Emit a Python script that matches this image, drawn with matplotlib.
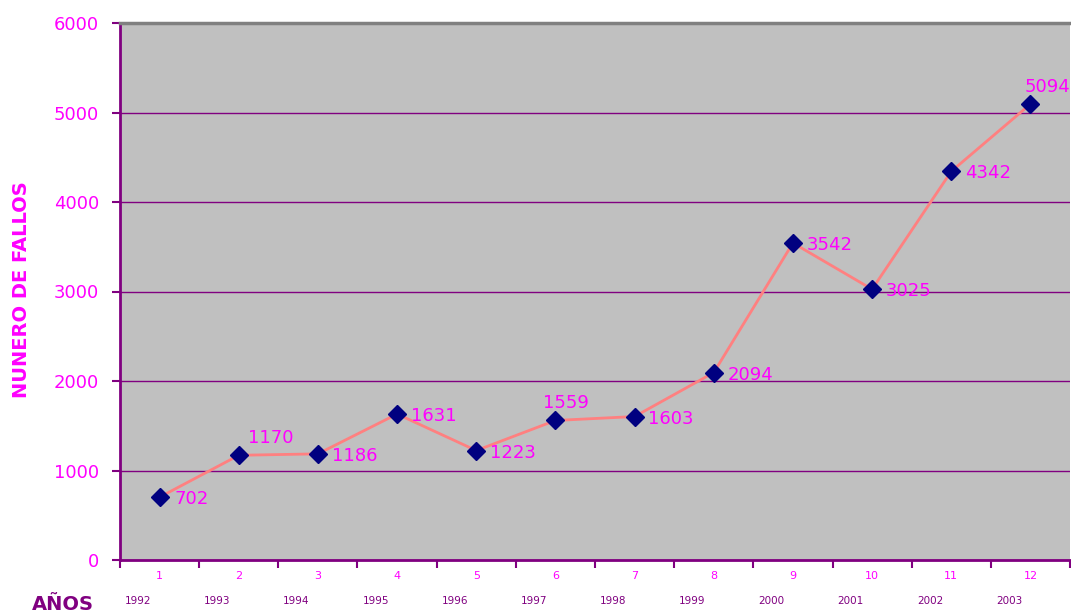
import numpy as np
import matplotlib.pyplot as plt

categorias = list(range(1, 13))
anios = ['1992', '1993', '1994', '1995', '1996', '1997', '1998', '1999', '2000', '2001', '2002', '2003']
fallos = [702, 1170, 1186, 1631, 1223, 1559, 1603, 2094, 3542, 3025, 4342, 5094]
# label offsets in points (dx, dy)
offsets = [(11, 0), (7, 14), (10, 0), (10, 0), (10, 0), (-9, 14), (10, 0), (10, 0),
           (10, 0), (10, 0), (10, 0), (-4, 14)]

MAG = '#FF00FF'
PURP = '#800080'

fig = plt.figure(figsize=(10.71, 6.13), dpi=100)
ax = fig.add_axes([120 / 1071, 53 / 613, 950 / 1071, 537 / 613])
ax.set_facecolor('#C0C0C0')

x = np.arange(len(fallos))
ax.plot(x, fallos, color='#FF8080', lw=2, zorder=2)
ax.plot(x, fallos, ls='none', marker='D', ms=9, color='#000080', zorder=3)
for xi, v, (dx, dy) in zip(x, fallos, offsets):
    ax.annotate(str(v), (xi, v), xytext=(dx, dy), textcoords='offset points',
                ha='left', va='center_baseline', color=MAG, fontsize=13)

ax.set_xlim(-0.5, len(fallos) - 0.5)
ax.set_ylim(0, 6000)
ax.set_yticks(range(0, 6001, 1000))
ax.yaxis.grid(True, color=PURP, lw=1)
ax.set_axisbelow(True)
ax.tick_params(axis='y', colors=PURP, labelcolor=MAG, labelsize=13, length=6, width=1.5, pad=9)

ax.set_xticks(np.arange(-0.5, len(fallos), 1))
ax.set_xticklabels([])
ax.tick_params(axis='x', colors=PURP, length=6, width=1.5)

for xi, c, a in zip(x, categorias, anios):
    ax.text(xi, -0.03, str(c), transform=ax.get_xaxis_transform(), ha='center', va='center',
            color=MAG, fontsize=8)
    ax.text(xi - 0.27, -0.077, a, transform=ax.get_xaxis_transform(), ha='center', va='center',
            color=PURP, fontsize=7.5)

for s in ['left', 'bottom']:
    ax.spines[s].set_color(PURP)
    ax.spines[s].set_linewidth(2)
ax.spines['top'].set_color('#808080')
ax.spines['top'].set_linewidth(2.5)
ax.spines['right'].set_visible(False)

fig.text(22 / 1071, 1 - 290 / 613, 'NUNERO DE FALLOS', rotation=90, ha='center', va='center',
         color=MAG, fontsize=14, fontweight='bold')
fig.text(63 / 1071, 1 - 604 / 613, 'AÑOS', ha='center', va='center',
         color=PURP, fontsize=14, fontweight='bold')

fig.savefig('out.png', dpi=100)
